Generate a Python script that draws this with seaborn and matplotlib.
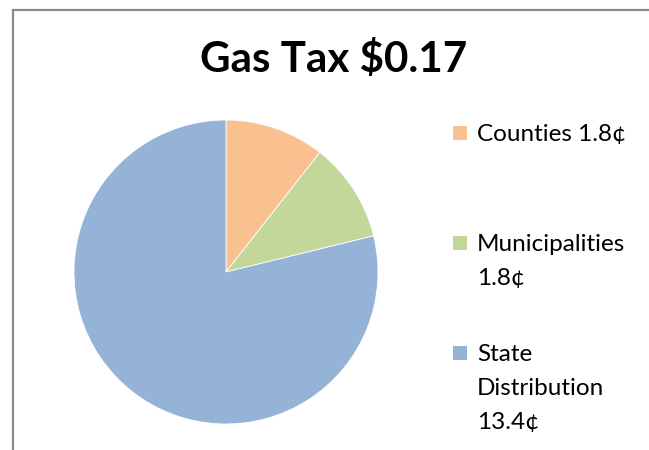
import matplotlib.pyplot as plt
import seaborn as sns
from matplotlib.patches import Rectangle

labels = ['Counties 1.8¢', 'Municipalities\n1.8¢', 'State\nDistribution\n13.4¢']
values = [1.8, 1.8, 13.4]
colors = ['#F9C18F', '#C4D79B', '#95B3D7']
title = 'Gas Tax $0.17'

sns.set_theme(style='white')
plt.rcParams['font.family'] = ['Lato', 'DejaVu Sans']

W, H = 649, 450
fig = plt.figure(figsize=(W / 100, H / 100), dpi=100)

# outer chart frame (cropped at right/bottom)
fig.patches.append(Rectangle((13 / W, -0.1), 1.2, (H - 10) / H + 0.1, transform=fig.transFigure,
                             fill=False, edgecolor='#8c8c8c', linewidth=1.6))

ax = fig.add_axes([74 / W, (H - 424) / H, 304 / W, 304 / H])
ax.pie(values, colors=colors, startangle=90, counterclock=False,
       wedgeprops=dict(edgecolor='white', linewidth=0.6))
ax.set_xlim(-1, 1)
ax.set_ylim(-1, 1)
ax.set_aspect('equal')

fig.text(334 / W, 1 - 60 / H, title, ha='center', va='center', fontsize=30.3,
         fontweight='bold', color='black')

# legend: entries evenly spaced by centre, swatch aligned with first line
line_h = 34
for i, (lab, col) in enumerate(zip(labels, colors)):
    lines = lab.split('\n')
    centre = 133 + 127 * i
    top = centre - (len(lines) - 1) * line_h / 2
    fig.patches.append(Rectangle((453 / W, 1 - (top + 7) / H), 14 / W, 14 / H,
                                 transform=fig.transFigure, facecolor=col, edgecolor='none'))
    for k, line in enumerate(lines):
        fig.text(477 / W, 1 - (top + k * line_h + 8) / H, line, ha='left', va='baseline',
                 fontsize=17.5, color='black')

fig.savefig('out.png', dpi=100)
